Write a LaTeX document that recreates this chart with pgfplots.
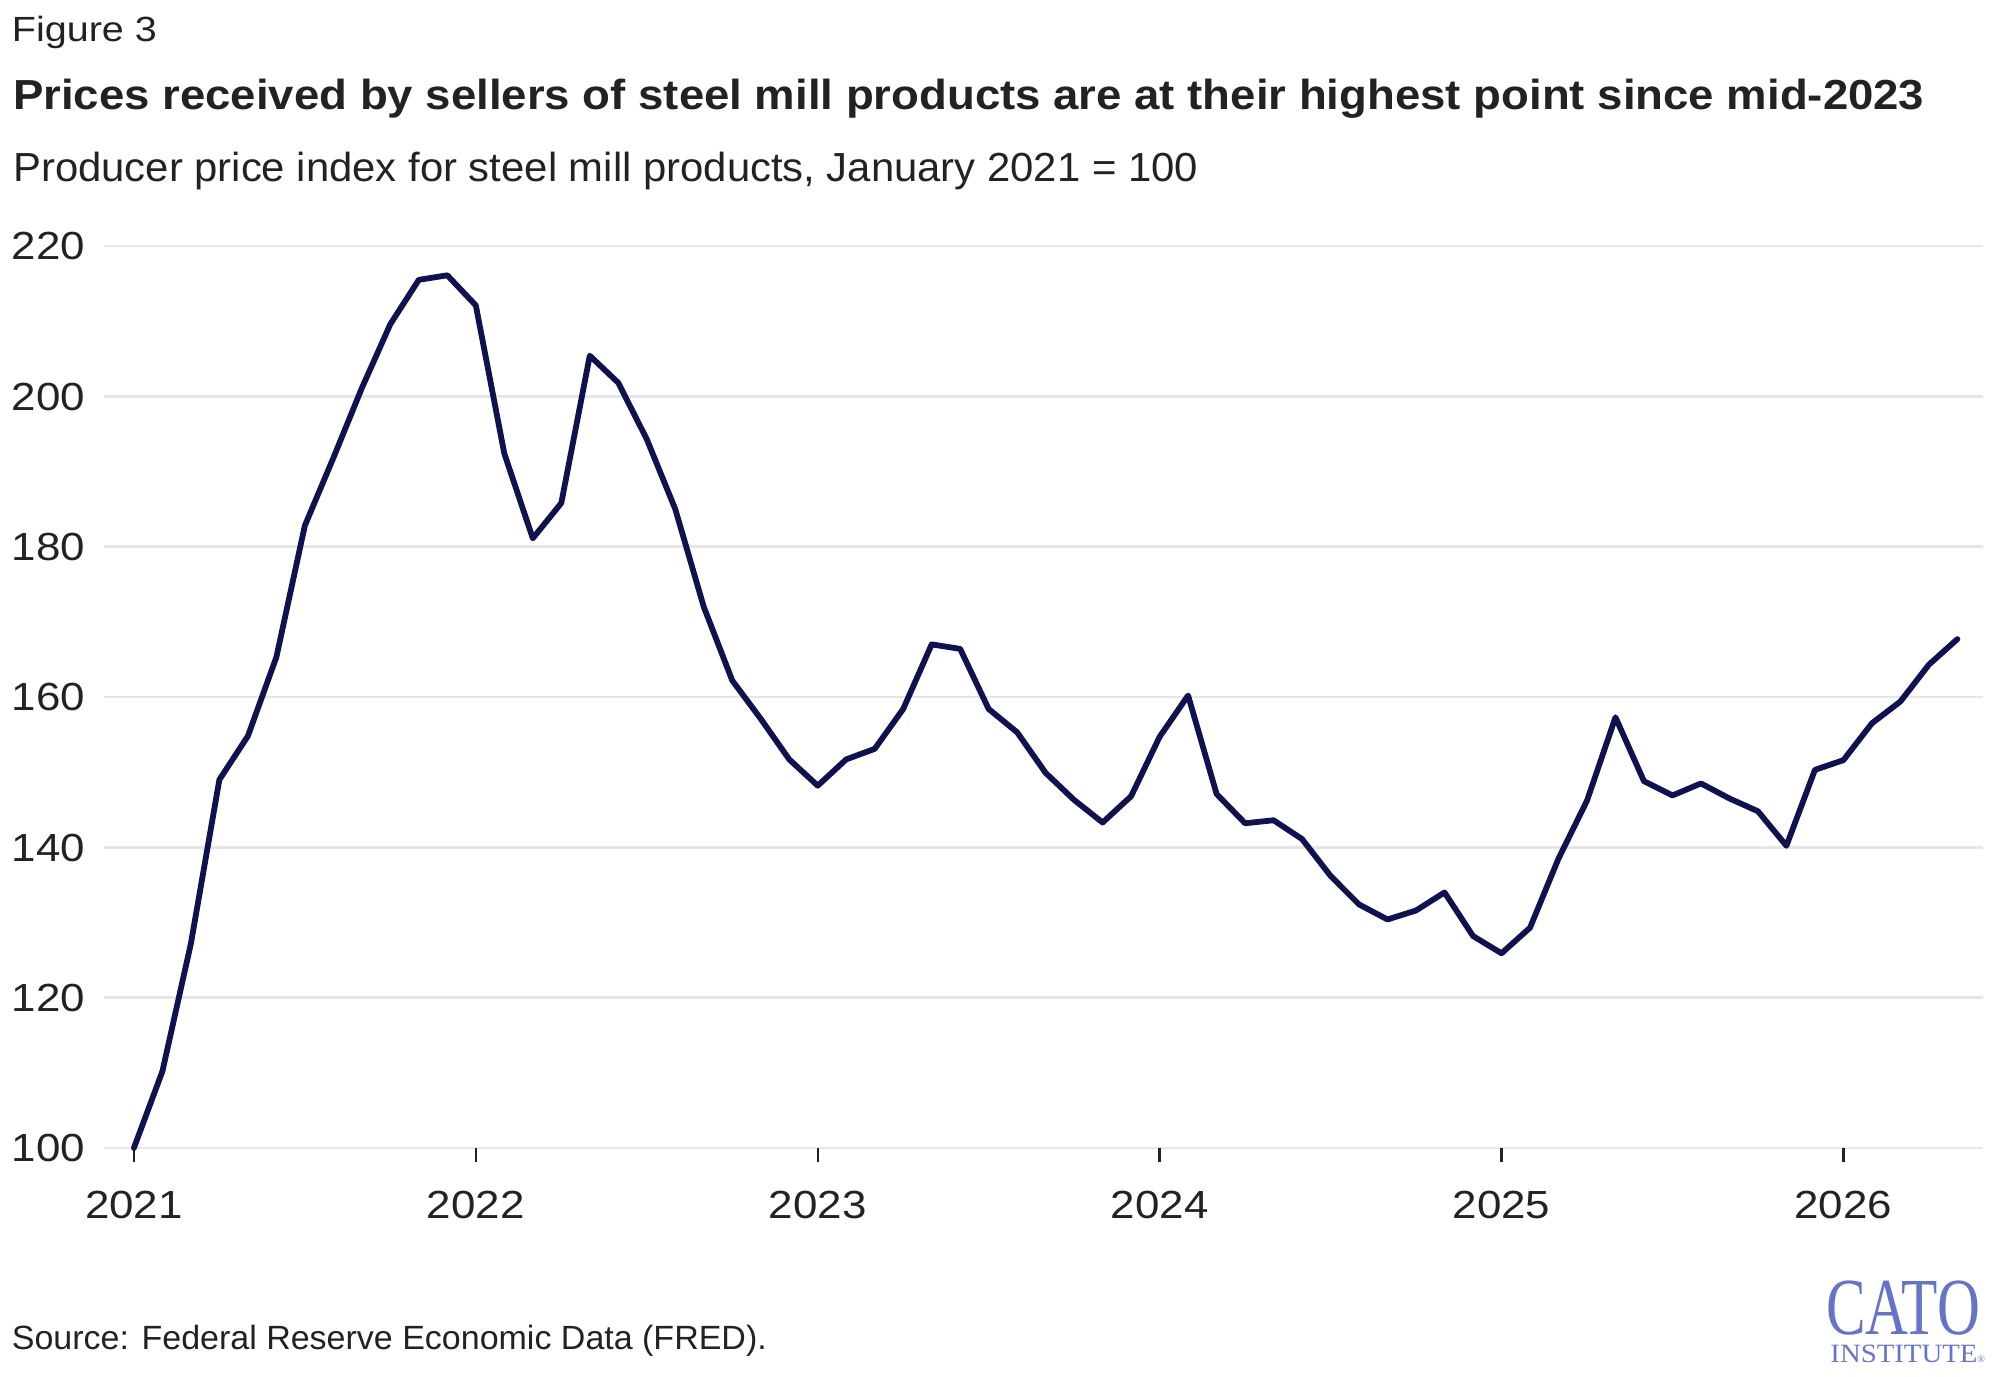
\documentclass[border=0pt]{standalone}
\usepackage{fontspec}
\setmainfont{Liberation Sans}[FakeStretch=1.12]
\newfontfamily\logofont{Liberation Serif}
\usepackage{graphicx}
\usepackage{pgfplots}
\pgfplotsset{compat=1.18}
\definecolor{navy}{HTML}{10124F}
\definecolor{gridc}{HTML}{E6E6E6}
\definecolor{txt}{HTML}{222222}
\definecolor{logo}{HTML}{6674C8}
\newsavebox\fitbox
\newcommand\fitw[2]{\sbox\fitbox{#2}\pgfmathsetmacro\fitratio{(#1)/(\the\wd\fitbox)}\scalebox{\fitratio}[1]{\usebox\fitbox}}
\begin{document}
\begin{tikzpicture}
\path[use as bounding box] (0,0) rectangle (998.5pt,688pt);
\node[anchor=base west, inner sep=0pt, text=txt] at (5.75pt,667.2pt) {\fitw{72.5pt}{\fontsize{17.5}{20}\selectfont Figure 3}};
\node[anchor=base west, inner sep=0pt, text=txt] at (6.4pt,633pt) {\fitw{955.6pt}{\fontsize{21}{24}\selectfont\bfseries Prices received by sellers of steel mill products are at their highest point since mid-2023}};
\node[anchor=base west, inner sep=0pt, text=txt] at (6.4pt,597pt) {\fitw{592.5pt}{\fontsize{20.3}{24}\selectfont Producer price index for steel mill products, January 2021 = 100}};
\node[anchor=base west, inner sep=0pt, text=txt] at (5.75pt,13pt) {\fitw{377.5pt}{\fontsize{16.8}{20}\selectfont Source: Federal Reserve Economic Data (FRED).}};
\node[anchor=base west, inner sep=0pt, text=logo] at (915pt,6.5pt) {\fitw{73.5pt}{\logofont\fontsize{13.2}{15}\selectfont INSTITUTE}{\logofont\fontsize{5}{6}\selectfont\textregistered}\llap{\raisebox{14pt}[0pt][0pt]{\fitw{77pt}{\logofont\fontsize{40.5}{44}\selectfont CATO}\hspace*{2.5pt}}}};
\begin{axis}[
  at={(52pt,114pt)}, anchor=south west,
  scale only axis, width=939.5pt, height=451pt,
  xmin=-1.05, xmax=64.9, ymin=100, ymax=220,
  axis x line*=bottom, axis y line*=left,
  x axis line style={draw=none},
  y axis line style={draw=none},
  xtick={0,12,24,36,48,60},
  xticklabels={2021,2022,2023,2024,2025,2026},
  ytick={100,120,140,160,180,200,220},
  ymajorgrids=true,
  grid style={gridc, line width=1.3pt},
  xtick align=outside,
  major tick length=7pt,
  xtick style={color=txt, line width=1.2pt},
  ytick style={draw=none},
  tick label style={font=\fontsize{19.6}{22}\selectfont, text=txt},
  /pgf/number format/assume math mode=true,
  xticklabel style={anchor=base, inner sep=0pt, yshift=-28.5pt},
  yticklabel pos=left,
  yticklabel style={anchor=base west, inner sep=0pt, xshift=-46.25pt, yshift=-7pt},
  yticklabel={\pgfmathprintnumber[fixed,precision=0]{\tick}},
  clip=false,
]
\addplot[navy, line width=2.9pt, line join=round, line cap=round] table {
x y
0 100
1 110.2
2 127.2
3 149.0
4 154.8
5 165.3
6 182.8
7 191.8
8 201.1
9 209.6
10 215.5
11 216.1
12 212.1
13 192.4
14 181.1
15 185.8
16 205.4
17 201.8
18 194.3
19 185.0
20 172.0
21 162.2
22 157.1
23 151.7
24 148.2
25 151.7
26 153.1
27 158.4
28 167.0
29 166.4
30 158.4
31 155.3
32 149.9
33 146.3
34 143.3
35 146.8
36 154.7
37 160.2
38 147.1
39 143.2
40 143.6
41 141.1
42 136.2
43 132.4
44 130.4
45 131.6
46 134.0
47 128.2
48 125.9
49 129.3
50 138.5
51 146.2
52 157.3
53 148.8
54 146.9
55 148.5
56 146.5
57 144.8
58 140.2
59 150.3
60 151.6
61 156.5
62 159.4
63 164.3
64 167.7
};
\end{axis}
\end{tikzpicture}
\end{document}
